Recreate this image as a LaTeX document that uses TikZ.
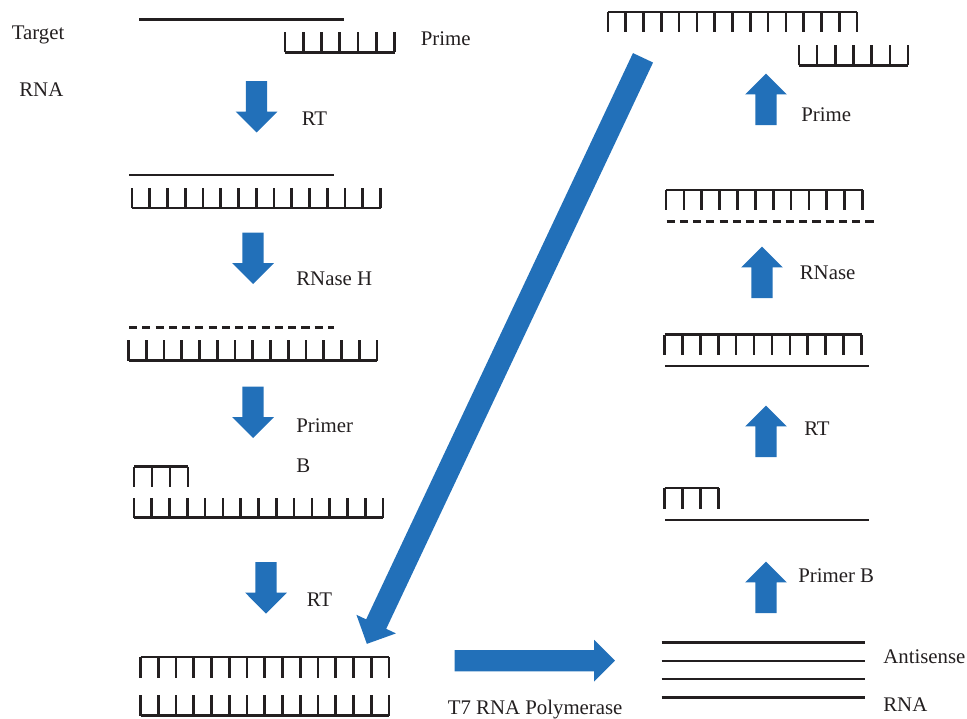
\documentclass[tikz,border=0pt]{standalone}
\usepackage{fontspec}
\setmainfont{Liberation Serif}
\usetikzlibrary{shapes.arrows}
\definecolor{inkdark}{HTML}{231F20}
\definecolor{arrowblue}{HTML}{2270B9}
\tikzset{
    strand/.style={inkdark,line width=1.5pt,line cap=square},
    broken/.style={inkdark,line width=1.5pt,dash pattern=on 4.6pt off 2.95pt},
    lbl/.style={anchor=base west,inner sep=0pt,text=inkdark,font=\fontsize{11.85}{13}\selectfont},
    blockarrow/.style={single arrow,anchor=tail,fill=arrowblue,draw=none,inner xsep=0pt,inner ysep=0.205cm,outer sep=0pt,
        minimum height=1.03cm,single arrow head extend=0.205cm},
}
% left end, right end, y of the backbone, y of the tooth ends, number of teeth
\newcommand{\comb}[5]{
    \draw[strand] (#1,#3) -- (#2,#3);
    \foreach \k in {1,...,#5}
        \draw[strand] ({#1+(#2-#1)*(\k-1)/(#5-1)},#3) -- ({#1+(#2-#1)*(\k-1)/(#5-1)},#4);
}
\begin{document}
\begin{tikzpicture}[x=0.02cm,y=-0.02cm]
    \useasboundingbox (0,0) rectangle (967,718);
    % left column
    \draw[strand] (139,19.7) -- (344,19.7);
    \comb{285}{394.5}{52.3}{31.5}{7}
    \draw[strand] (129,175) -- (334,175);
    \comb{132}{380.5}{208}{187.5}{15}
    \draw[broken] (129,327.3) -- (334,327.3);
    \comb{128.5}{377}{360.5}{340}{15}
    \comb{134}{188}{466.5}{486.5}{4}
    \comb{134}{383}{517.5}{497.5}{15}
    \comb{140.5}{389}{657}{678}{15}
    \comb{140.5}{389}{715.5}{695}{15}
    % right column
    \comb{608}{857}{12}{32}{15}
    \comb{799}{908}{65.3}{45}{7}
    \comb{666}{862.5}{190}{210}{12}
    \draw[broken] (666.5,221.3) -- (875,221.3);
    \comb{664.5}{861.5}{334.5}{354.5}{12}
    \draw[strand] (665,366) -- (869,366);
    \comb{664.5}{718.5}{488}{509}{4}
    \draw[strand] (665,520) -- (869,520);
    \foreach \ypos in {642.7,661,679,697.7}
        \draw[strand] (661.5,\ypos) -- (865,\ypos);
    % blue arrows
    \node[blockarrow,rotate=-90] (down1) at (256.5,81) {};
    \node[blockarrow,rotate=-90] (down2) at (253,232.5) {};
    \node[blockarrow,rotate=-90] (down3) at (253,386.5) {};
    \node[blockarrow,rotate=-90] (down4) at (266,562) {};
    \node[blockarrow,rotate=90] (up1) at (766,125) {};
    \node[blockarrow,rotate=90] (up2) at (762,298) {};
    \node[blockarrow,rotate=90] (up3) at (766,457) {};
    \node[blockarrow,rotate=90] (up4) at (766,613) {};
    \node[blockarrow,minimum height=3.21cm] (t7arrow) at (454.5,660.7) {};
    \node[blockarrow,minimum height=12.96cm,inner ysep=0.215cm,single arrow head extend=0.215cm,rotate=-115.23] (backarrow) at (643,57.8) {};
    % labels
    \node[lbl] (target) at (11.5,39) {Target};
    \node[lbl] (rnaleft) at (19,96.7) {RNA};
    \node[lbl] (primeleft) at (420.5,45) {Prime};
    \node[lbl] (rt1) at (301.5,125) {RT};
    \node[lbl] (rnaseh) at (296,285) {RNase H};
    \node[lbl] (primer) at (296,432.7) {Primer};
    \node[lbl] (bleft) at (296,472) {B};
    \node[lbl] (rt2) at (306.5,606) {RT};
    \node[lbl] (t7) at (447.5,714) {T7 RNA Polymerase};
    \node[lbl] (primeright) at (801,121.7) {Prime};
    \node[lbl] (rnase) at (799.5,279) {RNase};
    \node[lbl] (rt3) at (804,435) {RT};
    \node[lbl] (primerb) at (798,582.7) {Primer B};
    \node[lbl] (antisense) at (883,663.3) {Antisense};
    \node[lbl] (rnaright) at (883,711) {RNA};
\end{tikzpicture}
\end{document}
